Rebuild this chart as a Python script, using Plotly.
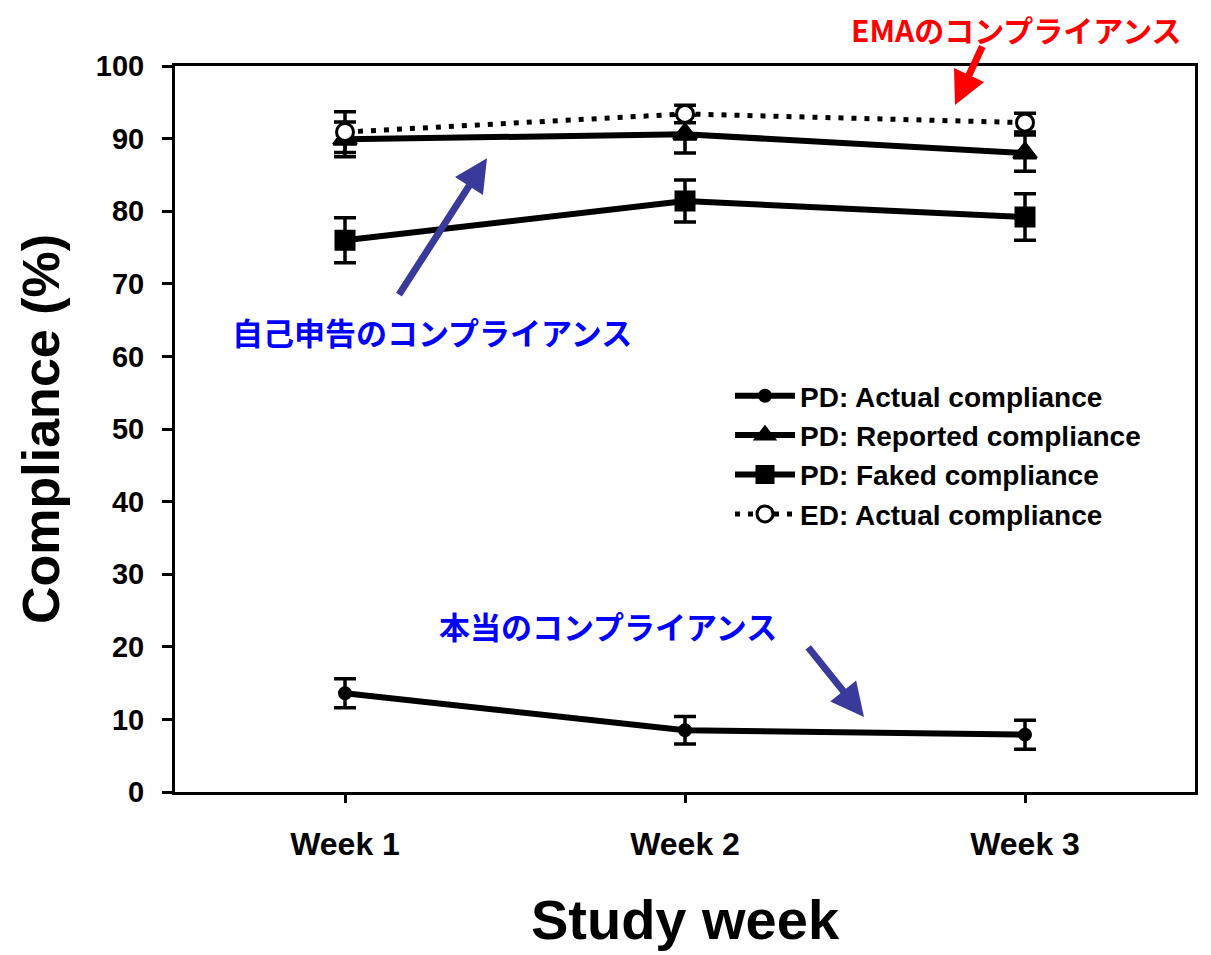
import plotly.graph_objects as go

weeks = [1, 2, 3]
week_labels = ["Week 1", "Week 2", "Week 3"]

pd_actual = [13.6, 8.5, 7.9]
pd_actual_err = [2.0, 1.9, 2.0]
pd_reported = [89.9, 90.6, 88.0]
pd_reported_err = [2.4, 2.6, 2.5]
pd_faked = [76.0, 81.4, 79.2]
pd_faked_err = [3.1, 2.9, 3.2]
ed_actual = [90.9, 93.4, 92.2]
ed_actual_err = [2.8, 1.2, 1.3]

y_ticks = list(range(0, 101, 10))

FONT = "Liberation Sans"
CJK = "Noto Sans CJK JP"

fig = go.Figure()

def add_series(name, y, err, symbol, msize, dash, lw, mfill="black"):
    fig.add_trace(go.Scatter(
        x=weeks, y=y, name=name, mode="lines+markers",
        line=dict(color="black", width=lw, dash=dash),
        marker=dict(symbol=symbol, size=msize, color=mfill,
                    line=dict(color="black", width=3)),
        error_y=dict(type="data", array=err, visible=True,
                     color="black", thickness=3.5, width=11),
        cliponaxis=False,
    ))

add_series("PD: Actual compliance", pd_actual, pd_actual_err, "circle", 11, "solid", 6)
add_series("PD: Reported compliance", pd_reported, pd_reported_err, "triangle-up", 20, "solid", 6)
add_series("PD: Faked compliance", pd_faked, pd_faked_err, "square", 18, "solid", 6)
add_series("ED: Actual compliance", ed_actual, ed_actual_err, "circle", 17, "5px,8px", 5, mfill="white")

# screen pixel -> data / paper coords (plot area: x 175..1195, y 66..792 on screen)
def x_of(px):
    return 0.5 + (px - 175) / 340.0

def y_of(py):
    return (791 - py) / 7.25

def xp(px):
    return (px - 175) / 1020.0

def yp(py):
    return (792 - py) / 726.0

annotations = [
    dict(x=xp(1016), y=yp(29), xref="paper", yref="paper",
         text="<b>EMAのコンプライアンス</b>", showarrow=False,
         font=dict(family=CJK, size=30, color="#FF0000")),
    dict(x=xp(432), y=yp(331), xref="paper", yref="paper",
         text="<b>自己申告のコンプライアンス</b>", showarrow=False,
         font=dict(family=CJK, size=31, color="#0000FF")),
    dict(x=xp(608), y=yp(625), xref="paper", yref="paper",
         text="<b>本当のコンプライアンス</b>", showarrow=False,
         font=dict(family=CJK, size=31, color="#0000FF")),
    dict(x=x_of(955), y=y_of(105), ax=28, ay=-60, text="", showarrow=True,
         xref="x", yref="y", axref="pixel", ayref="pixel",
         arrowhead=2, arrowsize=0.95, arrowwidth=7, arrowcolor="#FF0000"),
    dict(x=x_of(487), y=y_of(158), ax=-89, ay=138, text="", showarrow=True,
         xref="x", yref="y", axref="pixel", ayref="pixel",
         arrowhead=2, arrowsize=0.95, arrowwidth=7, arrowcolor="#3A3A9A"),
    dict(x=x_of(864), y=y_of(716), ax=-57, ay=-71, text="", showarrow=True,
         xref="x", yref="y", axref="pixel", ayref="pixel",
         arrowhead=2, arrowsize=0.95, arrowwidth=7, arrowcolor="#3A3A9A"),
]
for a in annotations:
    if not a["showarrow"]:
        a["xanchor"] = "center"
        a["yanchor"] = "middle"

fig.update_layout(
    width=1203, height=947,
    margin=dict(l=167, r=16, t=58, b=163),
    paper_bgcolor="white", plot_bgcolor="white",
    font=dict(family=FONT, color="black"),
    showlegend=True,
    legend=dict(x=xp(730), y=yp(371), xanchor="left", yanchor="top",
                bgcolor="rgba(0,0,0,0)", borderwidth=0,
                font=dict(family=FONT, size=28, color="black", weight="bold"),
                itemwidth=60, tracegroupgap=0),
    annotations=annotations,
)

fig.update_xaxes(
    range=[0.5, 3.5], tickmode="array", tickvals=weeks, ticktext=week_labels,
    showgrid=False, zeroline=False, showline=True, linecolor="black", linewidth=3,
    mirror=True, ticks="outside", ticklen=8, tickwidth=3, tickcolor="black",
    tickfont=dict(family=FONT, size=32, color="black", weight="bold"),
    ticklabelstandoff=14,
    title=dict(text="<b>Study week</b>", font=dict(family=FONT, size=56, color="black"), standoff=39),
)
fig.update_yaxes(
    range=[0, 100], tickmode="array", tickvals=y_ticks,
    showgrid=False, zeroline=False, showline=True, linecolor="black", linewidth=3,
    mirror=True, ticks="outside", ticklen=10, tickwidth=3, tickcolor="black",
    tickfont=dict(family=FONT, size=29, color="black", weight="bold"),
    ticklabelstandoff=12,
    title=dict(text="<b>Compliance (%)</b>", font=dict(family=FONT, size=52, color="black"), standoff=20),
)

fig.write_html("out.html")
